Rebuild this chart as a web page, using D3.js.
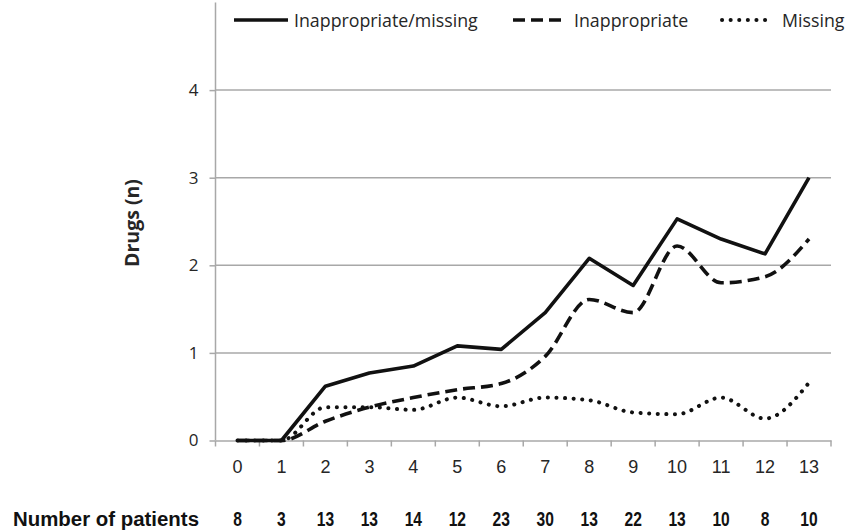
<!DOCTYPE html>
<html>
<head>
<meta charset="utf-8">
<script src="https://cdn.jsdelivr.net/npm/d3@7"></script>
<style>
  body { margin: 0; background: #fff; }
  svg { display: block; }
</style>
</head>
<body>
<svg width="857" height="532"></svg>
<script>
// categories on the x axis
const categories = ["0", "1", "2", "3", "4", "5", "6", "7", "8", "9", "10", "11", "12", "13"];
const patients = [8, 3, 13, 13, 14, 12, 23, 30, 13, 22, 13, 10, 8, 10];

const inappropriateMissing = [0, 0, 0.62, 0.77, 0.85, 1.08, 1.04, 1.46, 2.08, 1.77, 2.53, 2.30, 2.13, 3.0];
const inappropriate = [0, 0, 0.22, 0.38, 0.49, 0.58, 0.65, 0.96, 1.61, 1.46, 2.22, 1.80, 1.87, 2.30];
const missing = [0, 0, 0.38, 0.38, 0.35, 0.49, 0.39, 0.49, 0.46, 0.32, 0.30, 0.49, 0.25, 0.66];

const yTicks = [0, 1, 2, 3, 4];

function drawChart() {
    var svg = d3.select("svg");

    const x = d3.scaleBand().domain(categories).range([215.5, 831]);
    const y = d3.scaleLinear().domain([0, 5]).range([440.5, 2.5]);

    var grid = svg.append("g");
    grid.selectAll(".grid")
        .data(yTicks.filter(d => d > 0))
        .enter()
        .append("line")
        .attr("x1", 215.5).attr("x2", 831)
        .attr("y1", d => y(d)).attr("y2", d => y(d))
        .attr("stroke", "#a8a8a8")
        .attr("stroke-width", 1.5);

    // y axis
    var yAxis = svg.append("g")
        .attr("transform", "translate(215.5,0)")
        .call(d3.axisLeft(y).tickValues(yTicks).tickFormat(d3.format("d")).tickSize(6).tickPadding(11));
    yAxis.select(".domain").attr("stroke", "#a8a8a8").attr("stroke-width", 1.5).attr("d", "M0,2.5V440.5");
    yAxis.selectAll(".tick line").attr("stroke", "#a8a8a8").attr("stroke-width", 1.5);
    yAxis.selectAll("text")
        .attr("font-family", "'Open Sans', sans-serif")
        .attr("font-size", 17)
        .attr("fill", "#262626");

    // x axis
    var xAxis = svg.append("g")
        .attr("transform", "translate(0,440.5)")
        .call(d3.axisBottom(x).tickSize(0).tickPadding(20));
    xAxis.select(".domain").attr("stroke", "#a8a8a8").attr("stroke-width", 1.5);
    xAxis.selectAll("text")
        .attr("font-family", "'Liberation Sans', Arial, sans-serif")
        .attr("font-size", 18)
        .attr("fill", "#262626");
    xAxis.selectAll(".bound")
        .data(d3.range(categories.length + 1))
        .enter()
        .append("line")
        .attr("class", "bound")
        .attr("x1", i => 215.5 + i * x.step()).attr("x2", i => 215.5 + i * x.step())
        .attr("y1", 0).attr("y2", 6)
        .attr("stroke", "#a8a8a8")
        .attr("stroke-width", 1.5);

    const cx = i => x(categories[i]) + x.bandwidth() / 2;

    const series = [
        { name: "Inappropriate/missing", values: inappropriateMissing, dash: null, round: false, curve: d3.curveLinear },
        { name: "Inappropriate", values: inappropriate, dash: "12 6", round: false, curve: d3.curveMonotoneX },
        { name: "Missing", values: missing, dash: "0.1 8.5", round: true, curve: d3.curveMonotoneX }
    ];

    var lines = svg.append("g");
    series.forEach(s => {
        const line = d3.line()
            .x((d, i) => cx(i))
            .y(d => y(d))
            .curve(s.curve);
        lines.append("path")
            .attr("d", line(s.values))
            .attr("fill", "none")
            .attr("stroke", "#111")
            .attr("stroke-width", s.round ? 4 : 3.6)
            .attr("stroke-linecap", s.round ? "round" : "butt")
            .attr("stroke-linejoin", "round")
            .attr("stroke-dasharray", s.dash);
    });

    // legend: line start, line end, text start
    const legendPos = [[234, 288, 294], [513, 562, 574], [722, 767, 782]];
    var legend = svg.append("g");
    series.forEach((s, i) => {
        const p = legendPos[i];
        legend.append("line")
            .attr("x1", p[0]).attr("x2", p[1])
            .attr("y1", 20).attr("y2", 20)
            .attr("stroke", "#111")
            .attr("stroke-width", s.round ? 4 : 3.6)
            .attr("stroke-linecap", s.round ? "round" : "butt")
            .attr("stroke-dasharray", s.dash);
        legend.append("text")
            .attr("x", p[2]).attr("y", 26.5)
            .attr("font-family", "'Open Sans', sans-serif")
            .attr("font-size", 17.8)
            .attr("fill", "#262626")
            .text(s.name);
    });

    // y title
    svg.append("text")
        .attr("transform", "translate(132,223) rotate(-90)")
        .attr("text-anchor", "middle")
        .attr("dy", "0.35em")
        .attr("font-family", "'Open Sans', sans-serif")
        .attr("font-weight", "bold")
        .attr("font-size", 19.5)
        .attr("fill", "#262626")
        .text("Drugs (n)");

    // patients row
    var row = svg.append("g")
        .attr("font-family", "'Liberation Sans', Arial, sans-serif")
        .attr("font-weight", "bold")
        .attr("font-size", 19.5)
        .attr("fill", "#111");
    row.append("text")
        .attr("x", 13).attr("y", 526)
        .attr("textLength", 186)
        .attr("lengthAdjust", "spacingAndGlyphs")
        .text("Number of patients");
    row.selectAll(".n")
        .data(patients)
        .enter()
        .append("text")
        .attr("class", "n")
        .attr("transform", (d, i) => `translate(${cx(i)},526) scale(0.8,1)`)
        .attr("text-anchor", "middle")
        .text(d => d);
}

drawChart();
</script>
</body>
</html>
